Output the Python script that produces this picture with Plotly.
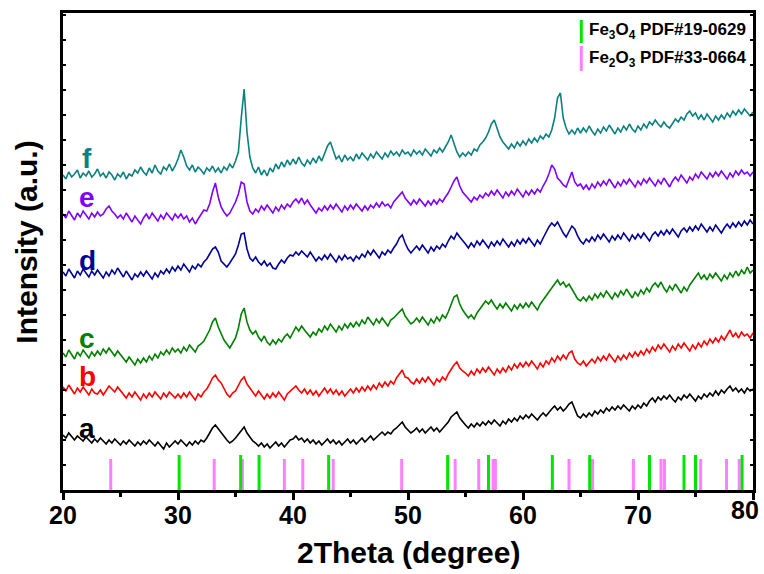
import plotly.graph_objects as go

# 2-theta grid of the diffraction scans (degrees)
two_theta = [round(20 + 0.25 * i, 2) for i in range(241)]

# Intensities (a.u., already stacked with vertical offsets)
sample_f = [
    315, 311, 318, 313, 316, 320, 312, 317, 314, 319, 313, 316, 321, 314, 317, 312, 318, 315, 310, 316,
    313, 318, 311, 316, 314, 320, 317, 323, 318, 315, 322, 317, 325, 319, 316, 323, 320, 326, 319, 324,
    331, 340, 333, 324, 320, 325, 318, 323, 320, 316, 322, 319, 324, 318, 322, 317, 323, 320, 326, 322,
    329, 338, 372, 401, 358, 333, 322, 317, 323, 315, 320, 314, 322, 318, 326, 321, 328, 323, 330, 325,
    331, 326, 333, 327, 324, 330, 326, 332, 327, 334, 329, 336, 344, 348, 339, 331, 334, 328, 335, 330,
    333, 329, 336, 331, 337, 333, 330, 336, 332, 338, 334, 331, 337, 333, 339, 335, 338, 334, 340, 336,
    338, 334, 340, 336, 339, 335, 341, 337, 334, 340, 337, 342, 338, 343, 348, 355, 346, 338, 333, 337,
    334, 338, 335, 341, 339, 345, 348, 352, 358, 366, 370, 362, 353, 348, 345, 341, 346, 342, 348, 344,
    349, 345, 351, 347, 352, 348, 354, 351, 356, 353, 360, 372, 392, 397, 372, 362, 356, 360, 356, 362,
    357, 362, 358, 364, 359, 355, 361, 357, 363, 359, 365, 360, 356, 362, 358, 364, 360, 366, 361, 358,
    364, 360, 366, 362, 368, 365, 370, 366, 363, 368, 364, 362, 367, 371, 368, 373, 370, 376, 379, 374,
    377, 371, 375, 370, 376, 372, 368, 374, 370, 375, 371, 377, 373, 379, 375, 380, 376, 381, 377, 374,
    378,
]
sample_e = [
    276, 272, 279, 274, 270, 277, 273, 279, 275, 271, 277, 273, 278, 274, 276, 281, 284, 279, 276, 272,
    275, 271, 277, 272, 268, 274, 270, 266, 272, 276, 271, 277, 273, 269, 275, 271, 277, 273, 270, 276,
    272, 276, 271, 274, 268, 272, 266, 271, 276, 280, 279, 286, 298, 307, 293, 283, 278, 274, 277, 282,
    288, 296, 308, 306, 288, 279, 276, 281, 278, 284, 280, 285, 281, 277, 283, 279, 285, 281, 286, 283,
    288, 291, 287, 292, 286, 290, 285, 281, 277, 282, 279, 284, 280, 285, 281, 286, 282, 278, 284, 280,
    285, 281, 286, 282, 279, 284, 280, 285, 282, 287, 283, 288, 284, 286, 282, 288, 291, 295, 298, 292,
    289, 285, 290, 286, 291, 287, 284, 289, 285, 290, 286, 291, 288, 293, 297, 303, 309, 313, 304, 298,
    295, 291, 288, 293, 290, 295, 292, 297, 294, 299, 295, 300, 296, 292, 298, 294, 299, 295, 301, 297,
    293, 299, 295, 300, 296, 301, 298, 304, 309, 316, 325, 321, 312, 309, 305, 303, 311, 318, 308, 304,
    306, 301, 305, 300, 306, 302, 308, 304, 309, 305, 311, 306, 302, 308, 304, 310, 306, 311, 307, 303,
    309, 305, 311, 307, 312, 308, 304, 310, 306, 312, 308, 303, 309, 313, 309, 315, 311, 307, 313, 310,
    316, 312, 318, 314, 311, 317, 313, 318, 314, 319, 315, 311, 317, 313, 319, 315, 320, 316, 318, 314,
    318,
]
sample_d = [
    218, 214, 221, 216, 212, 219, 215, 221, 217, 213, 219, 215, 220, 216, 212, 218, 214, 220, 216, 222,
    217, 213, 219, 215, 210, 216, 213, 218, 214, 219, 215, 211, 217, 213, 219, 216, 221, 217, 223, 219,
    224, 220, 226, 222, 218, 224, 221, 226, 223, 228, 231, 236, 241, 243, 238, 229, 226, 223, 227, 231,
    236, 245, 256, 257, 241, 232, 229, 233, 228, 225, 229, 224, 227, 222, 221, 226, 230, 227, 232, 235,
    234, 238, 235, 239, 236, 233, 238, 234, 229, 233, 230, 235, 231, 236, 232, 228, 234, 230, 235, 231,
    233, 229, 234, 231, 236, 233, 239, 235, 240, 236, 232, 238, 235, 240, 237, 242, 246, 252, 255, 247,
    241, 237, 240, 244, 240, 245, 241, 237, 243, 239, 244, 241, 246, 243, 249, 254, 251, 257, 253, 250,
    246, 242, 247, 243, 249, 245, 250, 246, 242, 248, 244, 249, 245, 251, 247, 243, 248, 244, 250, 246,
    251, 247, 252, 248, 244, 250, 246, 252, 258, 263, 267, 264, 268, 262, 257, 253, 259, 264, 261, 254,
    249, 246, 251, 248, 253, 249, 255, 251, 256, 252, 248, 254, 250, 255, 251, 257, 253, 249, 255, 251,
    256, 252, 257, 253, 249, 255, 258, 254, 259, 255, 260, 256, 261, 257, 253, 259, 262, 258, 263, 259,
    264, 260, 266, 262, 258, 263, 259, 265, 261, 257, 262, 266, 262, 267, 263, 268, 264, 269, 265, 270,
    266,
]
sample_c = [
    137, 133, 140, 135, 131, 138, 134, 140, 136, 132, 138, 134, 139, 135, 141, 137, 142, 138, 134, 139,
    135, 131, 128, 133, 129, 125, 131, 127, 132, 128, 134, 130, 136, 132, 138, 135, 140, 136, 142, 138,
    141, 137, 143, 139, 145, 141, 138, 144, 146, 149, 154, 160, 168, 172, 163, 156, 150, 146, 142, 147,
    152, 162, 176, 182, 168, 160, 156, 159, 153, 149, 154, 148, 145, 150, 146, 151, 148, 153, 156, 152,
    158, 163, 159, 164, 160, 156, 153, 158, 155, 161, 158, 164, 160, 166, 162, 158, 164, 160, 166, 162,
    167, 163, 168, 164, 170, 166, 173, 169, 165, 171, 167, 172, 168, 164, 170, 172, 175, 178, 181, 174,
    170, 166, 168, 172, 168, 173, 169, 165, 171, 167, 173, 169, 175, 172, 178, 185, 193, 195, 186, 180,
    176, 172, 175, 171, 177, 181, 185, 189, 186, 190, 185, 181, 186, 182, 187, 183, 179, 185, 181, 186,
    182, 187, 183, 188, 184, 180, 186, 190, 194, 198, 201, 206, 210, 205, 208, 203, 206, 201, 196, 191,
    189, 193, 189, 194, 190, 196, 192, 197, 193, 199, 195, 191, 197, 193, 199, 195, 201, 196, 192, 198,
    194, 200, 196, 202, 198, 204, 207, 203, 208, 202, 198, 204, 200, 206, 201, 197, 203, 199, 205, 209,
    213, 217, 211, 215, 210, 216, 212, 217, 213, 209, 215, 211, 217, 213, 219, 214, 220, 216, 223, 217,
    220,
]
sample_b = [
    103, 99, 105, 100, 96, 102, 98, 103, 99, 95, 101, 97, 96, 100, 95, 99, 104, 101, 98, 103,
    99, 95, 92, 97, 93, 98, 94, 90, 96, 92, 97, 93, 98, 94, 91, 97, 93, 98, 95, 92,
    96, 92, 97, 93, 98, 94, 90, 96, 93, 98, 101, 106, 112, 115, 110, 107, 101, 96, 93, 97,
    99, 104, 110, 113, 106, 102, 98, 94, 99, 95, 91, 96, 92, 97, 93, 98, 94, 90, 96, 99,
    101, 104, 100, 97, 101, 96, 100, 95, 99, 94, 98, 102, 97, 101, 96, 100, 95, 99, 94, 98,
    101, 97, 102, 98, 103, 99, 104, 100, 105, 101, 107, 103, 108, 104, 109, 106, 112, 116, 120, 113,
    112, 108, 106, 111, 107, 112, 108, 113, 109, 105, 111, 108, 113, 110, 116, 121, 125, 128, 122, 119,
    117, 114, 119, 115, 121, 117, 122, 118, 123, 119, 115, 121, 117, 122, 118, 124, 120, 126, 122, 127,
    123, 128, 124, 129, 125, 121, 127, 123, 129, 126, 132, 128, 134, 130, 135, 131, 137, 139, 131, 127,
    125, 129, 124, 128, 131, 127, 133, 129, 134, 130, 136, 132, 128, 134, 130, 135, 131, 137, 133, 138,
    134, 139, 135, 141, 137, 143, 139, 145, 141, 146, 142, 138, 144, 140, 146, 142, 147, 143, 139, 145,
    141, 147, 143, 149, 145, 151, 147, 152, 148, 154, 150, 155, 160, 153, 157, 152, 158, 154, 156, 152,
    157,
]
sample_a = [
    55, 52, 57, 53, 50, 54, 51, 49, 53, 50, 47, 51, 48, 52, 49, 46, 50, 47, 51, 48,
    45, 49, 46, 50, 47, 44, 48, 45, 49, 46, 50, 47, 44, 48, 45, 41, 47, 43, 46, 49,
    46, 50, 47, 44, 48, 45, 49, 46, 50, 48, 52, 57, 62, 65, 61, 57, 54, 50, 47, 49,
    52, 56, 60, 63, 57, 53, 49, 47, 44, 47, 43, 46, 42, 45, 48, 44, 47, 43, 46, 50,
    51, 54, 50, 52, 48, 51, 47, 50, 46, 49, 45, 48, 51, 47, 50, 46, 49, 45, 48, 51,
    47, 50, 46, 49, 52, 48, 51, 54, 50, 53, 56, 58, 55, 58, 56, 60, 62, 65, 68, 63,
    60, 57, 59, 62, 58, 61, 57, 60, 63, 59, 62, 58, 61, 64, 68, 73, 76, 78, 72, 68,
    65, 62, 66, 63, 67, 64, 68, 65, 69, 66, 70, 67, 64, 69, 66, 71, 68, 72, 69, 74,
    71, 75, 72, 76, 73, 70, 74, 77, 74, 78, 81, 84, 80, 83, 79, 82, 86, 88, 80, 74,
    72, 76, 73, 77, 74, 79, 76, 80, 77, 82, 79, 83, 80, 84, 81, 85, 82, 79, 84, 81,
    85, 82, 87, 84, 89, 92, 88, 93, 90, 94, 91, 95, 91, 88, 93, 90, 95, 92, 96, 93,
    89, 94, 91, 96, 93, 97, 94, 99, 95, 100, 97, 101, 104, 99, 102, 98, 101, 97, 102, 99,
    101,
]

sample_names = ["a", "b", "c", "d", "e", "f"]
sample_series = [sample_a, sample_b, sample_c, sample_d, sample_e, sample_f]
sample_colors = ["#000000", "#FF0000", "#008000", "#000099", "#8000FF", "#0A8080"]
label_heights = [62, 114, 152, 230, 293, 332]

# x-axis tick values and labels; the last label is placed separately so it stays inside the page
x_tickvals = [20, 30, 40, 50, 60, 70, 80]
x_ticktext = ["20", "30", "40", "50", "60", "70", ""]
x_last_label = "80"

# Standard reference peak positions (2-theta, degrees)
fe3o4_peaks = [30.1, 35.45, 37.05, 43.1, 53.45, 57.0, 62.55, 65.8, 71.0, 74.0, 75.0, 79.05]
fe2o3_peaks = [24.15, 33.15, 35.6, 39.25, 40.85, 43.5, 49.45, 54.1, 56.15, 57.4, 57.6,
               64.0, 66.05, 69.6, 72.0, 72.3, 75.45, 77.7, 78.8]
fe3o4_stick = 35
fe2o3_stick = 31

fe3o4_color = "#00E600"
fe2o3_color = "#FF80FF"

tick_font = dict(family="Liberation Sans", size=25, color="black", weight="bold")

fig = go.Figure()


def stick_trace(peaks, height, color):
    xs, ys = [], []
    for p in peaks:
        xs += [p, p, None]
        ys += [0, height, None]
    return go.Scatter(x=xs, y=ys, mode="lines", line=dict(color=color, width=3),
                      hoverinfo="skip", showlegend=False)


fig.add_trace(stick_trace(fe2o3_peaks, fe2o3_stick, fe2o3_color))
fig.add_trace(stick_trace(fe3o4_peaks, fe3o4_stick, fe3o4_color))

for name, ys, col in zip(sample_names, sample_series, sample_colors):
    fig.add_trace(go.Scatter(x=two_theta, y=ys, mode="lines", name=name,
                             line=dict(color=col, width=1.6), showlegend=False))

annotations = []
for name, h, col in zip(sample_names, label_heights, sample_colors):
    annotations.append(dict(x=22.1, y=h, xref="x", yref="y", text=name, showarrow=False,
                            font=dict(family="Liberation Sans", size=28, color=col, weight="bold")))

# key for the reference patterns
key_x = 65.07
shapes = [
    dict(type="line", xref="x", yref="y", x0=key_x, x1=key_x, y0=447, y1=470,
         line=dict(color=fe3o4_color, width=3)),
    dict(type="line", xref="x", yref="y", x0=key_x, x1=key_x, y0=419, y1=444,
         line=dict(color=fe2o3_color, width=3)),
]
annotations += [
    dict(x=65.6, y=459, xref="x", yref="y", xanchor="left", showarrow=False,
         text="Fe<sub>3</sub>O<sub>4</sub> PDF#19-0629",
         font=dict(family="Liberation Sans", size=17, color="black", weight="bold")),
    dict(x=65.6, y=431, xref="x", yref="y", xanchor="left", showarrow=False,
         text="Fe<sub>2</sub>O<sub>3</sub> PDF#33-0664",
         font=dict(family="Liberation Sans", size=17, color="black", weight="bold")),
    dict(x=-0.0526, y=0.52, xref="paper", yref="paper", textangle=-90, showarrow=False,
         text="Intensity (a.u.)", xanchor="center", yanchor="middle",
         font=dict(family="Liberation Sans", size=30, color="black", weight="bold")),
    dict(x=0.5, y=-0.132, xref="paper", yref="paper", showarrow=False,
         text="2Theta (degree)", xanchor="center", yanchor="middle",
         font=dict(family="Liberation Sans", size=30, color="black", weight="bold")),
    dict(x=1.0116, y=-0.042, xref="paper", yref="paper", showarrow=False,
         text=x_last_label, xanchor="right", yanchor="middle", font=tick_font),
]

fig.update_layout(
    width=764, height=574,
    margin=dict(l=63, r=8, t=13, b=84),
    paper_bgcolor="white", plot_bgcolor="white",
    shapes=shapes, annotations=annotations,
    xaxis=dict(range=[20, 80], tickmode="array", tickvals=x_tickvals, ticktext=x_ticktext,
               showgrid=False, zeroline=False,
               showline=True, linewidth=3, linecolor="black", mirror=True,
               ticks="outside", ticklen=7, tickwidth=3, tickcolor="black",
               ticklabelstandoff=-6,
               minor=dict(dtick=5, tick0=20, ticks="outside", ticklen=4, tickwidth=3,
                          tickcolor="black"),
               tickfont=tick_font),
    yaxis=dict(range=[0, 477], dtick=25, tick0=0, showgrid=False, zeroline=False,
               showline=True, linewidth=3, linecolor="black", mirror="ticks",
               ticks="inside", ticklen=3, tickwidth=1.5, tickcolor="black",
               showticklabels=False),
)

fig.write_html("out.html")
